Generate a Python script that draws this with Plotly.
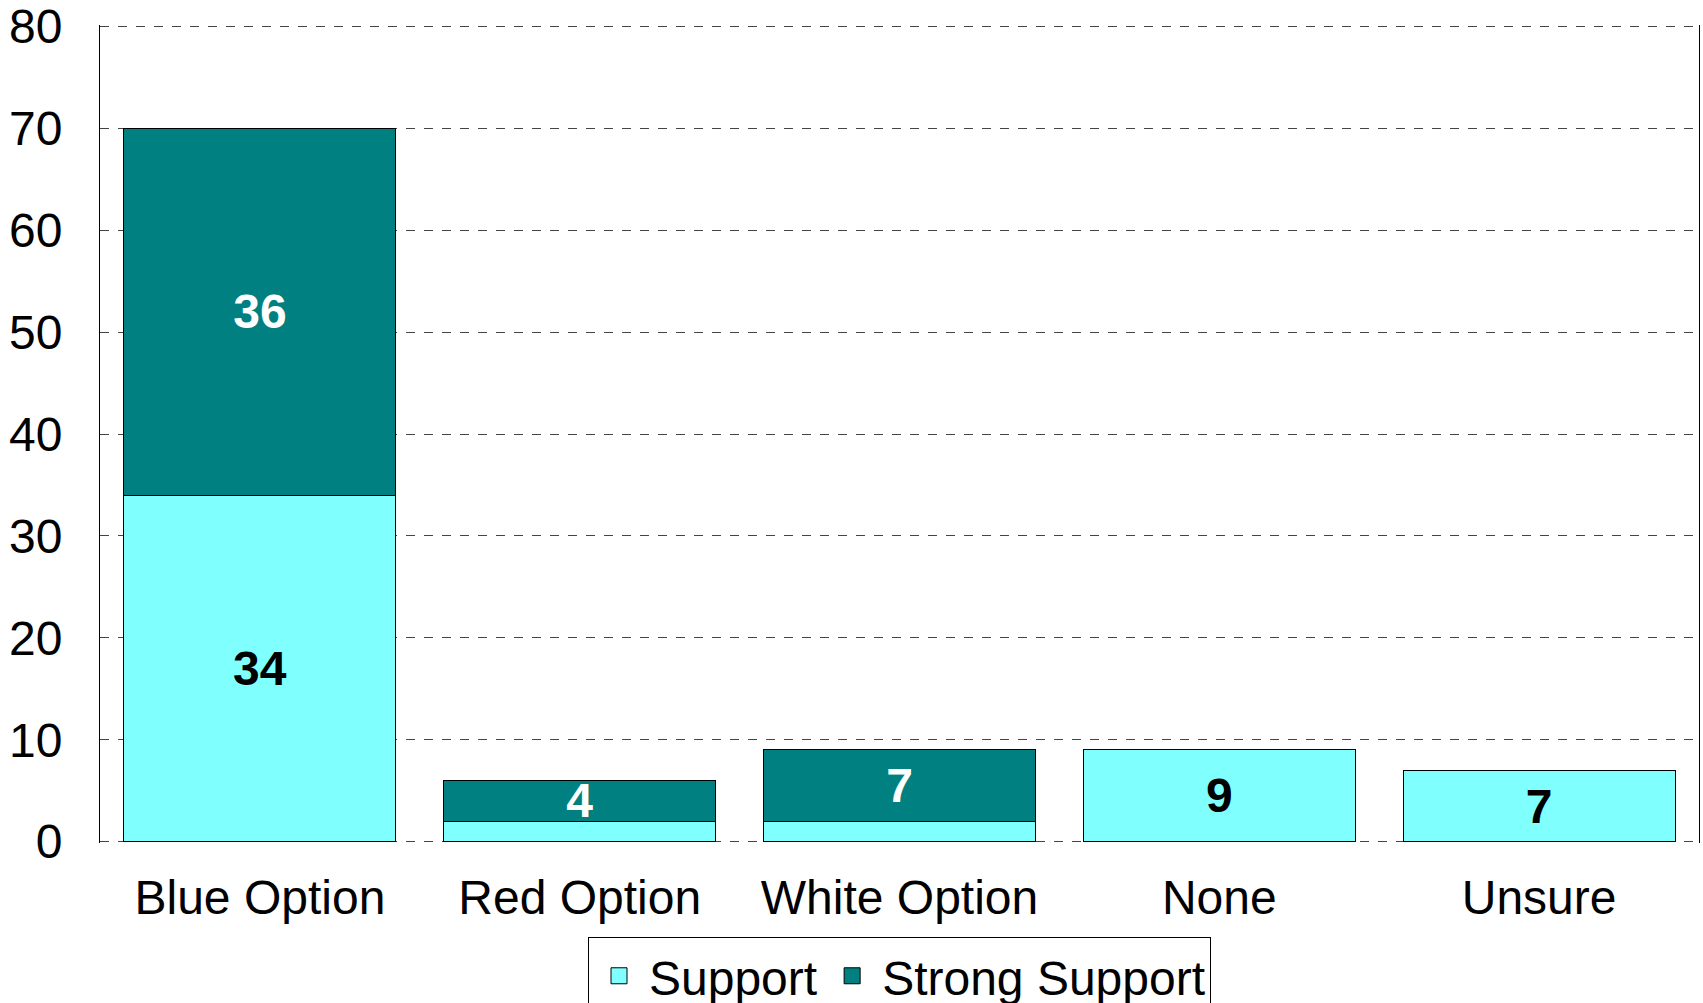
import plotly.graph_objects as go

categories = ["Blue Option", "Red Option", "White Option", "None", "Unsure"]
support = [34, 2, 2, 9, 7]
strong_support = [36, 4, 7, 0, 0]
support_labels = ["34", "", "", "9", "7"]
strong_labels = ["36", "4", "7", "", ""]
y_ticks = [0, 10, 20, 30, 40, 50, 60, 70, 80]

FONT = "Liberation Sans, Arial, sans-serif"
LABEL_FONT = "Liberation Sans Narrow, Arial Narrow, Liberation Sans, Arial, sans-serif"
SUPPORT_COLOR = "#80FFFF"
STRONG_COLOR = "#008080"

fig = go.Figure()
fig.add_trace(go.Bar(
    name="Support", x=categories, y=support, showlegend=False,
    marker=dict(color=SUPPORT_COLOR, line=dict(color="black", width=1)),
    text=support_labels, textposition="inside", insidetextanchor="middle",
    textangle=0,
    textfont=dict(family=LABEL_FONT, size=48, color="black", weight="bold"),
))
fig.add_trace(go.Bar(
    name="Strong Support", x=categories, y=strong_support, showlegend=False,
    marker=dict(color=STRONG_COLOR, line=dict(color="black", width=1)),
    text=strong_labels, textposition="inside", insidetextanchor="middle",
    textangle=0,
    textfont=dict(family=LABEL_FONT, size=48, color="white", weight="bold"),
))
# legend entries with larger square swatches
for name, col in [("Support", SUPPORT_COLOR), ("Strong Support", STRONG_COLOR)]:
    fig.add_trace(go.Scatter(
        name=name, x=[None], y=[None], mode="markers",
        marker=dict(symbol="square", size=28, color=col,
                    line=dict(color="black", width=1)),
        showlegend=True, hoverinfo="skip",
    ))

fig.update_layout(
    barmode="stack",
    bargap=0.15,
    width=1703, height=1003,
    margin=dict(l=100, r=4, t=25, b=160, autoexpand=False),
    plot_bgcolor="white", paper_bgcolor="white",
    font=dict(family=FONT, size=48, color="black"),
    uniformtext=dict(minsize=46, mode="show"),
    showlegend=True,
    legend=dict(
        orientation="h", x=0.5, xanchor="center", y=-0.115, yanchor="top",
        bordercolor="black", borderwidth=1, font=dict(size=48),
        itemwidth=50, tracegroupgap=0, traceorder="normal",
        itemsizing="trace",
    ),
)
fig.update_yaxes(
    range=[-0.13, 80.13], tickvals=y_ticks, showgrid=True,
    gridcolor="#444444", griddash="dash", gridwidth=1,
    showline=True, linecolor="black", linewidth=1, mirror=True,
    zeroline=False, ticks="", ticklabelstandoff=27,
    ticklabeloverflow="allow",
    tickfont=dict(size=48),
)
fig.update_xaxes(
    showline=False, ticks="", ticklabelstandoff=22,
    ticklabeloverflow="allow",
    tickfont=dict(size=48),
)

fig.write_html(
    "out.html",
    config={"displayModeBar": False},
    post_script="document.body.style.margin='0';document.body.style.overflow='hidden';",
)
